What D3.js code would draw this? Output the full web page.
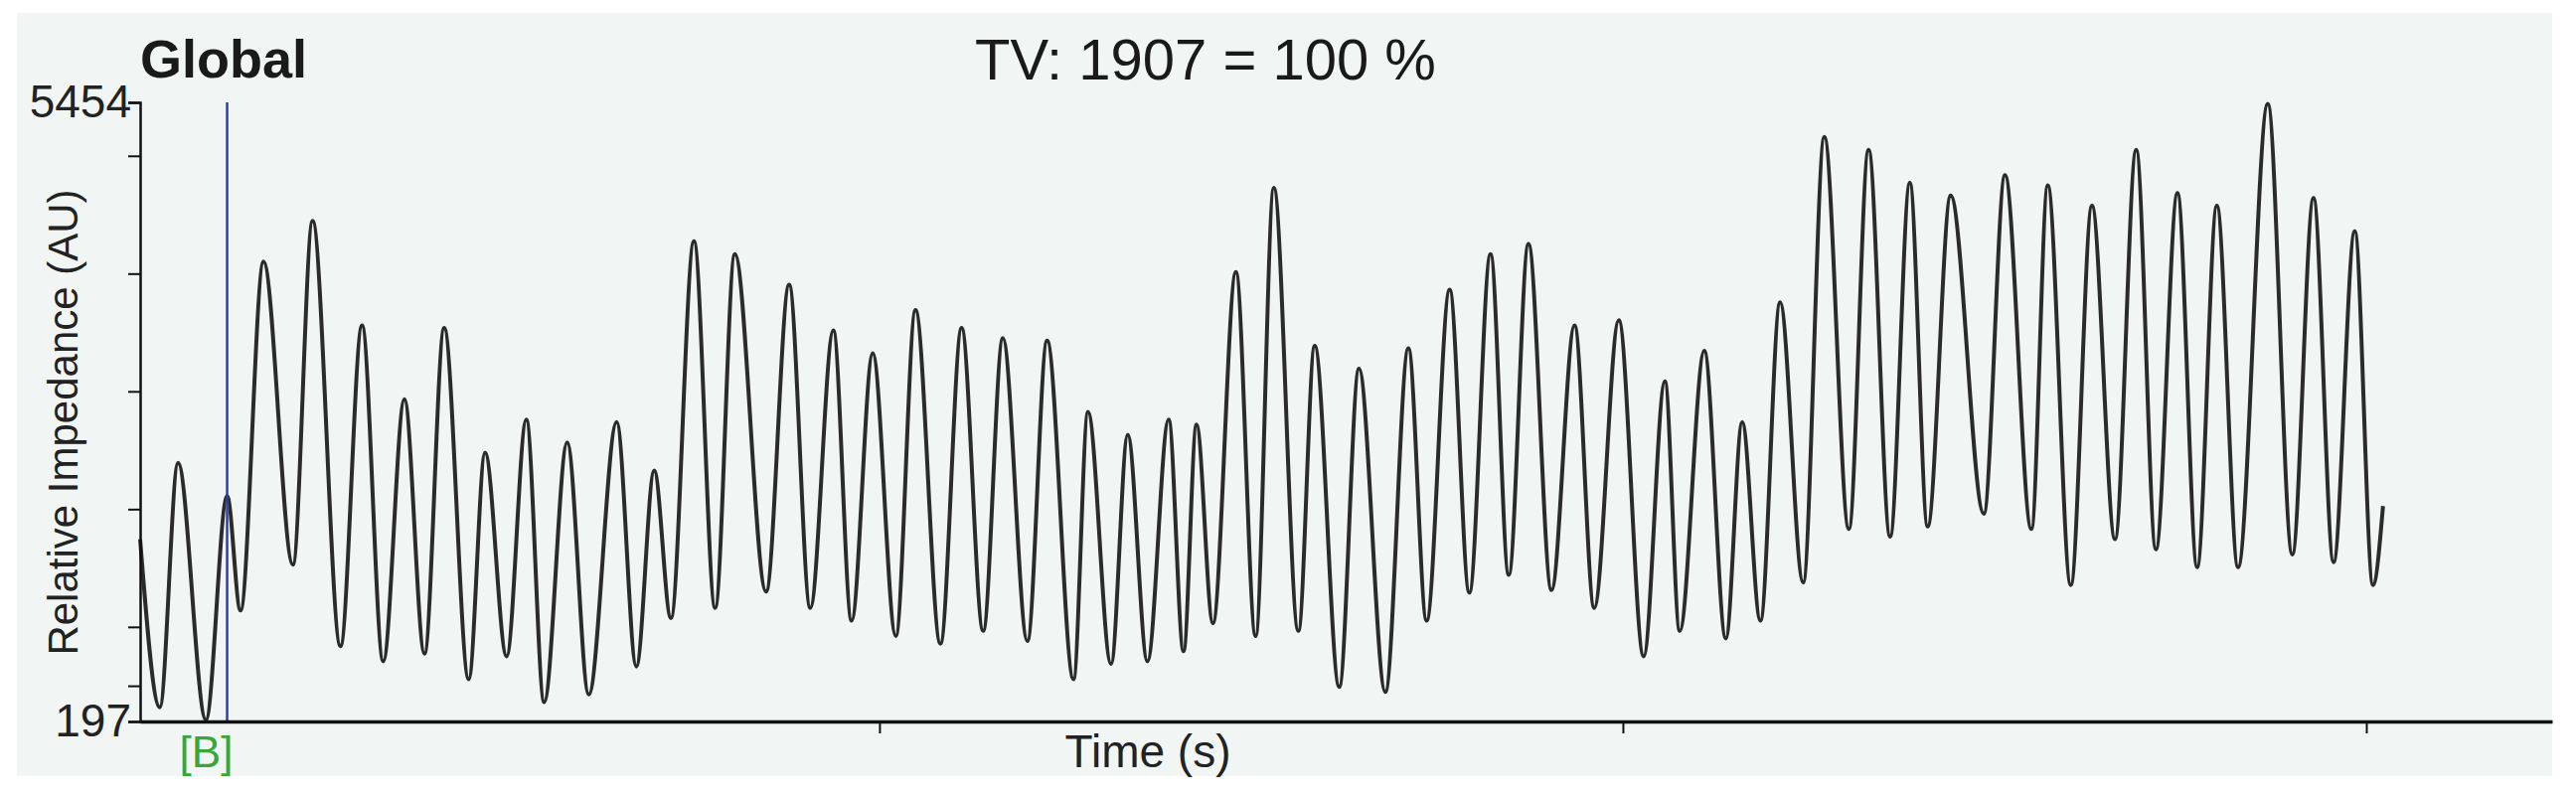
<!DOCTYPE html>
<html><head><meta charset="utf-8">
<script src="https://cdn.jsdelivr.net/npm/d3@7"></script>
<style>body{margin:0;background:#fff}</style></head>
<body><svg id="c" width="2592" height="800"></svg>
<script>
const time = [0.11,0.64,1.13,1.88,2.45,2.81,3.43,4.22,4.75,5.50,6.08,6.65,7.22,7.76,8.29,8.95,9.39,9.97,10.50,10.98,11.60,12.18,12.93,13.46,13.94,14.39,15.01,15.58,16.11,16.95,17.57,18.14,18.76,19.25,19.82,20.44,20.97,21.64,22.21,22.79,23.32,23.98,24.51,25.22,25.61,26.23,26.68,27.21,27.78,28.18,28.53,28.97,29.59,30.12,30.61,31.27,31.71,32.37,32.90,33.61,34.23,34.72,35.34,35.87,36.44,36.93,37.46,38.08,38.70,39.23,39.89,40.56,41.13,41.53,42.19,42.77,43.21,43.70,44.23,44.85,45.42,46.08,46.61,47.19,47.72,48.20,48.82,49.71,50.28,50.99,51.43,52.05,52.62,53.24,53.81,54.34,54.92,55.45,55.98,56.55,57.35,58.01,58.58,59.12,59.69,60.18,60.45];
const impedance = [1745,318,2393,210,2112,1139,4101,1528,4447,837,3560,707,2933,772,3539,556,2480,750,2761,361,2566,426,2739,664,2328,1075,4274,1161,4166,1300,3906,1161,3517,1053,3323,923,3690,858,3539,966,3452,880,3431,556,2825,685,2631,707,2761,794,2717,1031,4014,923,4728,966,3387,491,3193,448,3366,1053,3863,1291,4166,1442,4252,1312,3560,1161,3604,750,3085,966,3344,902,2739,1053,3755,1377,5160,1831,5052,1766,4771,1853,4663,1961,4836,1831,4749,1356,4576,1745,5052,1658,4684,1507,4576,1507,5441,1615,4641,1550,4360,1356,2026];
const yTicks = [500,1000,2000,3000,4000,5000];
const yLabels = [197,5454];
const xTicks = [20,40,60];
const marker = {t:2.45, label:"[B]"};

const svg = d3.select("#c");
svg.append("rect").attr("x",17).attr("y",13).attr("width",2551).attr("height",768).attr("fill","#f1f6f5");
const x = d3.scaleLinear().domain([0.11,65.0]).range([141,2568]);
const y = d3.scaleLinear().domain([197,5454]).range([726,103]);

svg.append("path").datum(time.map((t,i)=>[t,impedance[i]]))
  .attr("fill","none").attr("stroke","#2b2b2b").attr("stroke-width",4)
  .attr("d", d3.line().x(d=>x(d[0])).y(d=>y(d[1])).curve(d3.curveMonotoneX));

svg.append("line").attr("x1",x(marker.t)).attr("x2",x(marker.t)).attr("y1",y(5454)).attr("y2",y(197))
  .attr("stroke","#2a3fb0").attr("stroke-width",2.5);
svg.append("text").attr("x",x(marker.t)-21).attr("y",772).attr("text-anchor","middle")
  .attr("font-family","Liberation Sans, Arial").attr("font-size",44).attr("fill","#3aa63a").text(marker.label);

const ya = svg.append("g").attr("transform","translate(141,0)")
  .call(d3.axisLeft(y).tickValues(yTicks.concat(yLabels)).tickSize(12).tickFormat(d=>yLabels.includes(d)?d:""));
ya.select(".domain").attr("stroke","#111").attr("stroke-width",2.5);
ya.selectAll(".tick line").attr("stroke","#111").attr("stroke-width",2);
ya.selectAll("text").attr("font-family","Liberation Sans Narrow, Liberation Sans, Arial").attr("font-size",46).attr("fill","#222").attr("dx",6);

const xa = svg.append("g").attr("transform","translate(0,726)")
  .call(d3.axisBottom(x).tickValues(xTicks).tickSize(12).tickSizeOuter(0).tickFormat(""));
xa.select(".domain").attr("stroke","#111").attr("stroke-width",3.5);
xa.selectAll(".tick line").attr("stroke","#111").attr("stroke-width",2);

svg.append("text").attr("x",1155).attr("y",772).attr("text-anchor","middle")
  .attr("font-family","Liberation Sans, Arial").attr("font-size",46).attr("fill","#222").text("Time (s)");
svg.append("text").attr("transform","translate(78,425) rotate(-90)").attr("text-anchor","middle")
  .attr("font-family","Liberation Sans, Arial").attr("font-size",42).attr("fill","#222").text("Relative Impedance (AU)");
svg.append("text").attr("x",141).attr("y",78)
  .attr("font-family","Liberation Sans, Arial").attr("font-weight","bold").attr("font-size",54).attr("fill","#1a1a1a").text("Global");
svg.append("text").attr("x",1213).attr("y",80).attr("text-anchor","middle")
  .attr("font-family","Liberation Sans, Arial").attr("font-size",58).attr("fill","#1a1a1a").text("TV: 1907 = 100 %");
</script></body></html>
